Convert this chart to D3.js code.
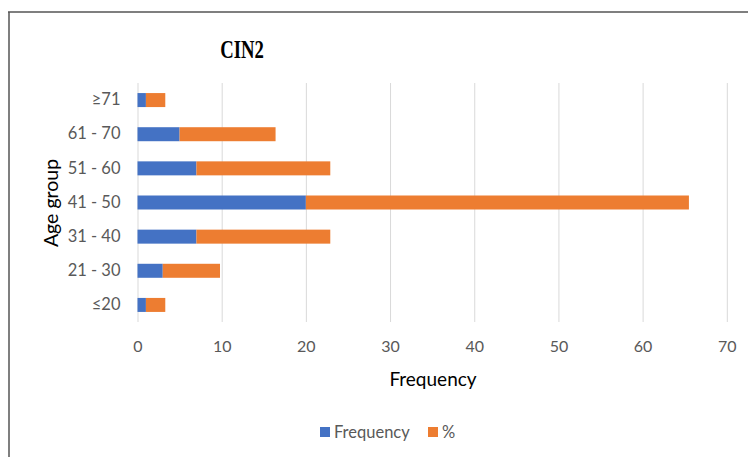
<!DOCTYPE html>
<html>
<head>
<meta charset="utf-8">
<script src="https://cdn.jsdelivr.net/npm/d3@7"></script>
<style>
  body { margin: 0; background: #fff; }
  svg { display: block; }
  .tick text { font-family: Lato, "Open Sans", sans-serif; fill: #595959; }
</style>
</head>
<body>
<div id="chart"></div>
<script>
// age groups, bottom to top as drawn
var ageGroups = ["≤20", "21 - 30", "31 - 40", "41 - 50", "51 - 60", "61 - 70", "≥71"]
var frequency = [1, 3, 7, 20, 7, 5, 1]
var percent = [2.3, 6.8, 15.9, 45.5, 15.9, 11.4, 2.3]
var xTicks = [0, 10, 20, 30, 40, 50, 60, 70]
var seriesNames = ["Frequency", "%"]
var colors = ["#4472C4", "#ED7D31"]

var width = 748, height = 457

var svg = d3.select("#chart")
  .append("svg")
    .attr("width", width)
    .attr("height", height)

// outer frame (only top and left show in the crop)
svg.append("line")
  .attr("x1", 8).attr("y1", 12).attr("x2", width).attr("y2", 12)
  .style("stroke", "#555").style("stroke-width", 1.5)
svg.append("line")
  .attr("x1", 9).attr("y1", 12).attr("x2", 9).attr("y2", height)
  .style("stroke", "#555").style("stroke-width", 1.5)

var xScale = d3.scaleLinear()
  .domain([0, 70])
  .range([137.5, 726.8])

var yScale = d3.scaleBand()
  .domain(ageGroups.slice().reverse())
  .range([83, 322])
  .paddingInner(0.59)
  .paddingOuter(0.295)

// gridlines
svg.append("g")
  .attr("transform", "translate(0,322)")
  .call(d3.axisBottom(xScale)
    .tickValues(xTicks)
    .tickSize(-239)
    .tickPadding(19))
  .call(g => g.select(".domain").remove())
  .call(g => g.selectAll(".tick line").attr("stroke", "#d9d9d9"))
  .call(g => g.selectAll(".tick text").style("font-size", "16px"))

var rows = ageGroups.map(function(d, i) {
  return {group: d, freq: frequency[i], pct: percent[i]}
})

var stack = d3.stack()
  .keys(["freq", "pct"])(rows)

svg.selectAll(".series")
  .data(stack)
  .enter()
  .append("g")
    .attr("class", "series")
    .style("fill", function(d, i) { return colors[i] })
  .selectAll("rect")
  .data(function(d) { return d })
  .enter()
  .append("rect")
    .attr("x", function(d) { return xScale(d[0]) })
    .attr("y", function(d) { return yScale(d.data.group) })
    .attr("width", function(d) { return xScale(d[1]) - xScale(d[0]) })
    .attr("height", yScale.bandwidth())

// category labels
svg.append("g")
  .attr("transform", "translate(137.5,0)")
  .call(d3.axisLeft(yScale).tickSize(0).tickPadding(17))
  .call(g => g.select(".domain").remove())
  .call(g => g.selectAll(".tick text").style("font-size", "16.5px"))

svg.append("text")
  .attr("text-anchor", "middle")
  .attr("transform", "translate(242,58) scale(0.72,1)")
  .style("font-family", "'Liberation Serif', serif")
  .style("font-weight", "bold")
  .style("font-size", "26px")
  .style("fill", "#000")
  .text("CIN2")

svg.append("text")
  .attr("text-anchor", "middle")
  .attr("transform", "translate(58,203) rotate(-90)")
  .style("font-family", "Lato, 'Open Sans', sans-serif")
  .style("font-size", "19.5px")
  .style("fill", "#000")
  .text("Age group")

svg.append("text")
  .attr("text-anchor", "middle")
  .attr("x", 433)
  .attr("y", 386)
  .style("font-family", "Lato, 'Open Sans', sans-serif")
  .style("font-size", "19px")
  .style("fill", "#000")
  .text("Frequency")

// legend
var legendX = [320, 428]
var legend = svg.selectAll(".legend")
  .data(seriesNames)
  .enter()
  .append("g")
    .attr("class", "legend")
    .attr("transform", function(d, i) { return "translate(" + legendX[i] + ",432)" })

legend.append("rect")
  .attr("x", 0).attr("y", -5)
  .attr("width", 10).attr("height", 10)
  .style("fill", function(d, i) { return colors[i] })

legend.append("text")
  .attr("x", 14)
  .attr("y", 6)
  .style("font-family", "Lato, 'Open Sans', sans-serif")
  .style("font-size", "16.5px")
  .style("fill", "#595959")
  .text(function(d) { return d })
</script>
</body>
</html>
